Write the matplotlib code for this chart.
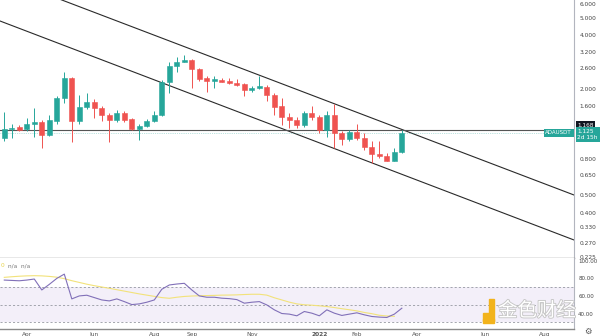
import matplotlib
matplotlib.use('Agg')
import matplotlib.pyplot as plt
import matplotlib.dates as mdates
import matplotlib.patheffects as pe
from matplotlib.patches import Rectangle
from matplotlib.ticker import FixedLocator, NullLocator
import numpy as np
import pandas as pd

plt.rcParams['font.family'] = ['DejaVu Sans', 'Noto Sans CJK SC']

# weekly ADA/USDT candles, first week opens 15 Mar 2021
weeks = pd.date_range('2021-03-15', periods=54, freq='7D')
opens = [1.05, 1.19, 1.21, 1.18, 1.26, 1.29, 1.09, 1.32, 1.77, 2.31,
         1.31, 1.57, 1.68, 1.56, 1.42, 1.33, 1.46, 1.35, 1.18, 1.23,
         1.31, 1.42, 2.17, 2.69, 2.84, 2.90, 2.58, 2.29, 2.22, 2.24,
         2.20, 2.16, 2.12, 1.97, 2.02, 2.05, 1.83, 1.59, 1.38, 1.33,
         1.24, 1.46, 1.38, 1.17, 1.42, 1.13, 1.04, 1.135, 1.05, 0.935,
         0.857, 0.83, 0.785, 0.88]
highs = [1.47, 1.27, 1.25, 1.36, 1.56, 1.33, 1.42, 1.81, 2.49, 2.33,
         1.84, 1.88, 1.74, 1.60, 1.45, 1.52, 1.49, 1.36, 1.27, 1.35,
         1.50, 2.24, 2.84, 3.03, 3.10, 2.92, 2.60, 2.36, 2.36, 2.29,
         2.29, 2.27, 2.14, 2.07, 2.36, 2.10, 1.88, 1.77, 1.46, 1.39,
         1.50, 1.60, 1.42, 1.49, 1.63, 1.15, 1.17, 1.26, 1.12, 1.02,
         1.02, 0.865, 0.92, 1.17]
lows = [1.01, 1.05, 1.15, 1.16, 1.07, 0.93, 1.08, 1.26, 1.66, 1.005,
        1.26, 1.54, 1.36, 1.32, 1.005, 1.30, 1.29, 1.17, 1.03, 1.22,
        1.30, 1.40, 1.88, 2.49, 2.82, 2.01, 2.21, 1.92, 2.03, 2.17,
        2.13, 2.07, 1.81, 1.92, 1.98, 1.71, 1.42, 1.25, 1.20, 1.20,
        1.21, 1.34, 1.13, 1.07, 0.93, 0.96, 1.02, 1.03, 0.90, 0.76,
        0.81, 0.78, 0.78, 0.865]
closes = [1.185, 1.20, 1.17, 1.26, 1.29, 1.09, 1.33, 1.77, 2.31, 1.31,
          1.57, 1.68, 1.56, 1.42, 1.33, 1.46, 1.34, 1.18, 1.23, 1.31,
          1.42, 2.17, 2.69, 2.84, 2.90, 2.58, 2.27, 2.21, 2.26, 2.19,
          2.15, 2.11, 1.97, 2.02, 2.06, 1.83, 1.58, 1.38, 1.33, 1.24,
          1.46, 1.38, 1.17, 1.42, 1.13, 1.04, 1.135, 1.05, 0.935, 0.857,
          0.83, 0.785, 0.88, 1.125]

rsi = [78.2, 77.8, 77.4, 78.2, 79.4, 66.9, 73.3, 80.1, 85.0, 56.7,
       60.1, 60.9, 58.2, 55.5, 54.4, 56.7, 53.6, 50.2, 51.0, 52.9,
       55.5, 67.7, 72.6, 73.7, 74.5, 66.9, 60.1, 58.6, 58.6, 57.5,
       57.0, 55.9, 51.8, 52.9, 53.6, 49.8, 44.2, 40.0, 39.3, 37.4,
       42.3, 40.4, 37.4, 44.2, 40.4, 37.8, 39.3, 40.8, 38.5, 36.6,
       35.9, 35.5, 39.3, 46.1]
rsi_ma = [81.3, 82.0, 82.6, 83.0, 83.2, 83.0, 82.4, 81.5, 79.8, 77.5,
          75.5, 73.5, 71.8, 70.3, 68.8, 67.2, 65.6, 64.0, 62.4, 61.0,
          59.6, 58.2, 57.4, 58.6, 59.5, 60.0, 60.3, 60.5, 60.7, 61.0,
          61.1, 61.3, 61.7, 62.0, 62.0, 61.0, 58.0, 55.5, 53.0, 51.0,
          50.0, 49.5, 48.8, 48.0, 46.8, 45.5, 44.3, 43.0, 41.2, 39.8,
          38.0, 37.2, 36.8]

# drawn channel lines and level
upper_line = (['2021-05-03', '2022-08-29'], [6.48, 0.502])
lower_line = (['2021-03-08', '2022-08-29'], [4.89, 0.280])
level = 1.168
last_price = 1.125

price_ticks = [6.0, 5.0, 4.0, 3.2, 2.6, 2.0, 1.6, 0.8, 0.65, 0.5, 0.4, 0.33, 0.27, 0.225]
rsi_ticks = [100, 80, 60, 40]
month_ticks = ['2021-04-05', '2021-06-07', '2021-08-02', '2021-09-06', '2021-11-01',
               '2022-01-03', '2022-02-07', '2022-04-04', '2022-06-06', '2022-08-01']
month_labels = ['Apr', 'Jun', 'Aug', 'Sep', 'Nov', '2022', 'Feb', 'Apr', 'Jun', 'Aug']

green = '#26a69a'
red = '#ef5350'

fig = plt.figure(figsize=(6, 3.36), dpi=100)
ax = fig.add_axes([0, 0.2321, 0.9567, 0.7679])
rax = fig.add_axes([0, 0.0208, 0.9567, 0.2113], sharex=ax)

o = np.array(opens); c = np.array(closes)
cols = np.where(c >= o, green, red)
x = mdates.date2num(weeks)
ax.vlines(x, lows, highs, colors=cols, lw=0.7, zorder=3)
ax.bar(x, np.abs(c - o), bottom=np.minimum(o, c), width=4.8, color=cols,
       edgecolor=cols, linewidth=0.4, zorder=4)

ax.plot(pd.to_datetime(upper_line[0]), upper_line[1], color='#2a2a2a', lw=0.8, zorder=2)
ax.plot(pd.to_datetime(lower_line[0]), lower_line[1], color='#2a2a2a', lw=0.8, zorder=2)
ax.axhline(level, color='#555555', lw=0.8, zorder=2)
ax.axhline(last_price, color=green, lw=0.5, ls=':', alpha=0.6, zorder=2)

ax.set_yscale('log')
ax.set_ylim(0.222, 6.32)
ax.set_xlim(pd.Timestamp('2021-03-11'), pd.Timestamp('2022-08-28 16:00'))
ax.yaxis.set_major_locator(FixedLocator(price_ticks))
ax.yaxis.set_minor_locator(NullLocator())
ax.set_yticklabels(['%.3f' % t for t in price_ticks])
ax.yaxis.tick_right()
ax.tick_params(axis='y', length=0, pad=4, labelsize=4.2, colors='#444444')
ax.tick_params(axis='x', length=0, labelbottom=False)
for s in ['top', 'left']:
    ax.spines[s].set_visible(False)
ax.spines['right'].set_color('#b2b5be')
ax.spines['right'].set_linewidth(0.8)
ax.spines['bottom'].set_color('#8a8a8a')
ax.spines['bottom'].set_linewidth(1.0)

# price labels on the scale
ytr = ax.get_yaxis_transform()
ax.annotate('1.168', xy=(1, level), xycoords=ytr, xytext=(2.5, 3.6), textcoords='offset points',
            ha='left', va='center', fontsize=4.2, color='white', annotation_clip=False,
            bbox=dict(boxstyle='square,pad=0.25', fc='#131722', ec='none'))
ax.annotate('1.125\n2d 15h', xy=(1, last_price), xycoords=ytr, xytext=(2.5, 3.0),
            textcoords='offset points', ha='left', va='top', fontsize=4.2, color='white',
            linespacing=1.3, annotation_clip=False,
            bbox=dict(boxstyle='square,pad=0.3', fc=green, ec='none'))
ax.annotate('ADAUSDT', xy=(1, last_price), xycoords=ytr, xytext=(-1.5, 0), textcoords='offset points',
            ha='right', va='center', fontsize=4.0, color='white', annotation_clip=False,
            bbox=dict(boxstyle='square,pad=0.3', fc=green, ec='none'))

# RSI pane
rax.axhspan(30, 70, color='#7e57c2', alpha=0.09, lw=0)
for lvl in [70, 50, 30]:
    rax.axhline(lvl, color='#9598a1', lw=0.6, ls=(0, (2.5, 2.5)))
rax.plot(weeks[:len(rsi_ma)], rsi_ma, color='#f2e27a', lw=0.8)
rax.plot(weeks, rsi, color='#8170b8', lw=0.8)
rax.set_ylim(22.3, 103.4)
rax.yaxis.set_major_locator(FixedLocator(rsi_ticks))
rax.set_yticklabels(['%.2f' % t for t in rsi_ticks])
rax.yaxis.tick_right()
rax.tick_params(axis='y', length=0, pad=3, labelsize=4.0, colors='#444444')
rax.set_xticks(pd.to_datetime(month_ticks))
rax.set_xticklabels(month_labels)
rax.tick_params(axis='x', length=0, pad=2, labelsize=4.2, colors='#555555')
for lab in rax.get_xticklabels():
    if lab.get_text() == '2022':
        lab.set_fontweight('bold')
for s in ['top', 'left']:
    rax.spines[s].set_visible(False)
rax.spines['right'].set_color('#b2b5be')
rax.spines['right'].set_linewidth(0.8)
rax.spines['bottom'].set_color('#8a8a8a')
rax.spines['bottom'].set_linewidth(1.0)
rax.text(0.001, 0.87, '0', transform=rax.transAxes, fontsize=4.2, color='#e8d44d', ha='left')
rax.text(0.014, 0.87, 'n/a  n/a', transform=rax.transAxes, fontsize=4.2, color='#777777')

# watermark
fig.patches.append(Rectangle((0.805, 0.045), 0.011, 0.022, transform=fig.transFigure,
                             color='#f2b31c', zorder=10))
fig.patches.append(Rectangle((0.815, 0.045), 0.009, 0.065, transform=fig.transFigure,
                             color='#f2b31c', zorder=10))
fig.patches.append(Rectangle((0.805, 0.04), 0.019, 0.01, transform=fig.transFigure,
                             color='#f2b31c', zorder=10))
fig.text(0.83, 0.075, '金色财经', fontsize=14, family=['Noto Sans CJK SC'], color='white',
         va='center', ha='left', zorder=10,
         path_effects=[pe.withStroke(linewidth=1.3, foreground='#c6c6c6')])
fig.text(0.98, 0.014, '⚙', fontsize=6, color='#555555', ha='center', va='center')

fig.savefig('out.png', dpi=100)
